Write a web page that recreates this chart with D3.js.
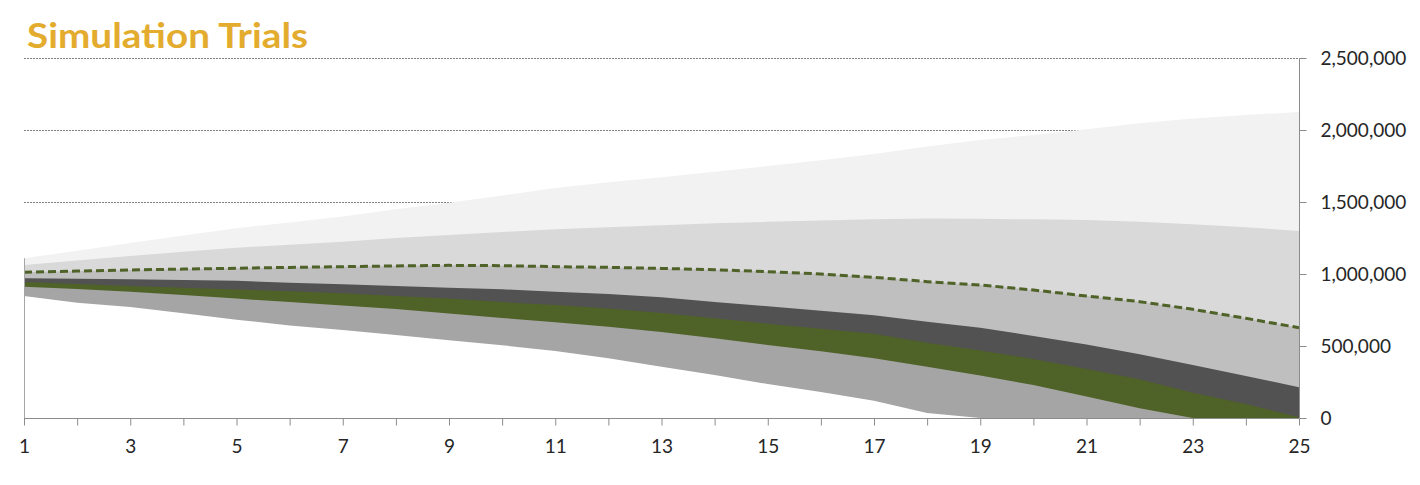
<!DOCTYPE html>
<html>
<head>
<meta charset="utf-8">
<script src="https://cdn.jsdelivr.net/npm/d3@7"></script>
<style>
  html, body { margin: 0; padding: 0; background: #ffffff; }
  svg { display: block; }
</style>
</head>
<body>
<svg id="chart" width="1420" height="485"></svg>
<script>
// ---- data ----
const trials = d3.range(1, 26);
const yTicks = [0, 500000, 1000000, 1500000, 2000000, 2500000];
const xTickLabels = [1, 3, 5, 7, 9, 11, 13, 15, 17, 19, 21, 23, 25];

const p95 = [1109000, 1162000, 1215000, 1268000, 1318000, 1358000, 1400000, 1450000, 1495000, 1545000, 1597000, 1637000, 1672000, 1710000, 1750000, 1790000, 1833000, 1885000, 1930000, 1966000, 2005000, 2047000, 2080000, 2104000, 2125000];
const p75 = [1062000, 1093000, 1125000, 1155000, 1183000, 1203000, 1224000, 1250000, 1271000, 1292000, 1310000, 1324000, 1339000, 1352000, 1362000, 1371000, 1381000, 1385000, 1383000, 1380000, 1375000, 1363000, 1345000, 1324000, 1299000];
const median = [1012000, 1020000, 1028000, 1034000, 1040000, 1046000, 1051000, 1056000, 1060000, 1058000, 1051000, 1046000, 1039000, 1030000, 1016000, 1000000, 977000, 947000, 924000, 889000, 847000, 808000, 755000, 692000, 627000];
const p40 = [970000, 967000, 963000, 958000, 953000, 940000, 928000, 917000, 905000, 894000, 877000, 861000, 838000, 806000, 776000, 745000, 714000, 669000, 627000, 570000, 510000, 442000, 368000, 292000, 213000];
const p30 = [945000, 930000, 917000, 905000, 893000, 880000, 866000, 847000, 830000, 805000, 785000, 760000, 730000, 692000, 655000, 620000, 585000, 523000, 468000, 410000, 340000, 269000, 175000, 97000, 5000];
const p20 = [912000, 896000, 877000, 854000, 829000, 805000, 782000, 757000, 726000, 695000, 665000, 634000, 598000, 553000, 507000, 463000, 415000, 356000, 295000, 229000, 150000, 67000, 0, 0, 0];
const p5  = [847000, 801000, 771000, 727000, 683000, 642000, 611000, 576000, 540000, 505000, 466000, 415000, 356000, 299000, 236000, 181000, 120000, 35000, 0, 0, 0, 0, 0, 0, 0];

const seriesOrder = [
  {values: p95, color: "#F2F2F2"},
  {values: p75, color: "#D9D9D9"},
  {values: median, color: "#BFBFBF"},
  {values: p40, color: "#525252"},
  {values: p30, color: "#4F6228"},
  {values: p20, color: "#A5A5A5"},
  {values: p5,  color: "#FFFFFF"}
];

// ---- layout ----
const svg = d3.select("#chart");
const plotLeft = 24, plotRight = 1299, plotTop = 58, plotBottom = 418;

const x = d3.scaleLinear().domain([1, 25]).range([plotLeft, plotRight]);
const y = d3.scaleLinear().domain([0, 2500000]).range([plotBottom, plotTop]);

// title
svg.append("text")
  .attr("x", 27).attr("y", 48)
  .attr("font-family", "Lato, 'Open Sans', sans-serif")
  .attr("font-weight", "bold")
  .attr("font-size", 35)
  .attr("fill", "#E3AC2E")
  .attr("textLength", 281)
  .attr("lengthAdjust", "spacingAndGlyphs")
  .text("Simulation Trials");

// gridlines (behind areas)
svg.append("g")
  .selectAll("line")
  .data(yTicks.filter(d => d > 0))
  .join("line")
  .attr("x1", plotLeft).attr("x2", plotRight)
  .attr("y1", d => Math.round(y(d)) + 0.5).attr("y2", d => Math.round(y(d)) + 0.5)
  .attr("stroke", "#808080")
  .attr("stroke-width", 1)
  .attr("stroke-dasharray", "2,1");

// areas drawn from baseline, largest first
const area = (vals) => d3.area()
  .x((d, i) => x(trials[i]))
  .y0(y(0))
  .y1((d) => y(d))(vals);

svg.append("g")
  .selectAll("path")
  .data(seriesOrder)
  .join("path")
  .attr("d", d => area(d.values))
  .attr("fill", d => d.color);

// median dashed line
svg.append("path")
  .attr("d", d3.line().x((d, i) => x(trials[i])).y(d => y(d))(median))
  .attr("fill", "none")
  .attr("stroke", "#4F6228")
  .attr("stroke-width", 3)
  .attr("stroke-dasharray", "8,4");

// left edge line
svg.append("line")
  .attr("x1", plotLeft + 0.5).attr("x2", plotLeft + 0.5)
  .attr("y1", y(p95[0])).attr("y2", plotBottom)
  .attr("stroke", "#A6A6A6").attr("stroke-width", 1);

const fontFam = "Lato, 'Liberation Sans', sans-serif";

// x axis
const xAxis = d3.axisBottom(x)
  .tickValues(trials)
  .tickSize(7)
  .tickFormat(d => xTickLabels.includes(d) ? d : "");
const gx = svg.append("g")
  .attr("transform", `translate(0,${plotBottom + 0.5})`)
  .call(xAxis);
gx.select(".domain").attr("stroke", "#8C8C8C").attr("d", `M${plotLeft},0H${plotRight}`);
gx.selectAll(".tick line").attr("stroke", "#8C8C8C");
gx.selectAll(".tick text")
  .attr("font-family", fontFam)
  .attr("font-size", 19)
  .attr("fill", "#262626")
  .attr("dy", 0)
  .attr("y", 34);

// y axis (right)
const yAxis = d3.axisRight(y)
  .tickValues(yTicks)
  .tickSize(7)
  .tickPadding(14)
  .tickFormat(d3.format(","));
const gy = svg.append("g")
  .attr("transform", `translate(${plotRight + 0.5},0)`)
  .call(yAxis);
gy.select(".domain").attr("stroke", "#8C8C8C").attr("d", `M0,${plotTop}V${plotBottom}`);
gy.selectAll(".tick line").attr("stroke", "#8C8C8C");
gy.selectAll(".tick text")
  .attr("font-family", fontFam)
  .attr("font-size", 19)
  .attr("fill", "#262626");
</script>
</body>
</html>
